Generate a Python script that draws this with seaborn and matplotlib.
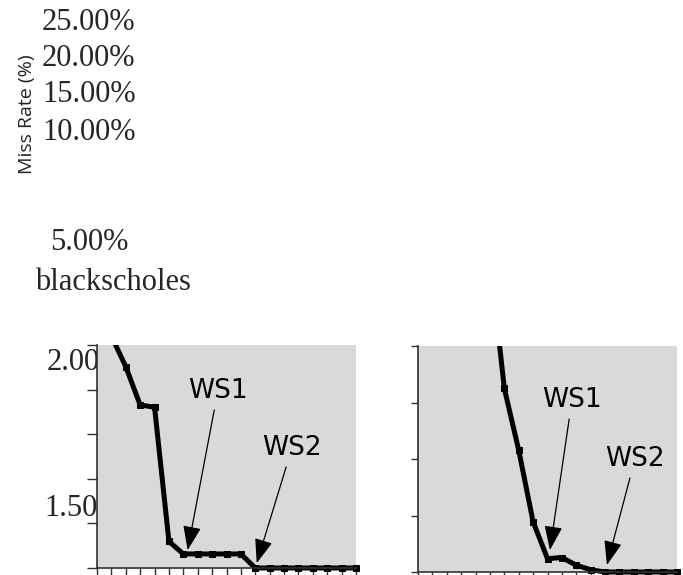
import matplotlib
matplotlib.use("Agg")
import matplotlib.pyplot as plt
import matplotlib.patches as mpatches
import seaborn as sns
import pandas as pd

# Miss-rate curves (normalised) against cache size step
left_steps = list(range(1, 19))
left_miss = [2.04, 1.903, 1.731, 1.721, 1.119, 1.063, 1.063, 1.063, 1.063,
             1.063, 1.0, 1.0, 1.0, 1.0, 1.0, 1.0, 1.0, 1.0]

right_steps = list(range(5, 19))
right_miss = [2.39, 1.812, 1.539, 1.222, 1.059, 1.064, 1.030, 1.010,
              1.0, 1.0, 1.0, 1.0, 1.0, 1.0]

# Percent labels of the outer chart
pct_labels = ["25.00%", "20.00%", "15.00%", "10.00%", "5.00%"]
benchmark = "blackscholes"
ylabel = "Miss Rate (%)"
left_tick_labels = ["2.00", "1.50"]

# Working-set markers: (label, text x, text y, arrow x, arrow y)
left_ws = [("WS1", 8.4, 1.794, 6.3, 1.08), ("WS2", 13.55, 1.538, 11.1, 1.022)]
right_ws = [("WS1", 10.7, 1.761, 9.17, 1.097), ("WS2", 15.08, 1.50, 13.13, 1.031)]

sns.set_theme(style="white")
W, H = 683, 575
fig = plt.figure(figsize=(W / 100, H / 100), dpi=100)

serif = ["Liberation Serif", "DejaVu Serif"]


def px_axes(x0, y_top, x1, y_bot):
    return fig.add_axes([x0 / W, 1 - y_bot / H, (x1 - x0) / W, (y_bot - y_top) / H])


def style_panel(ax, yticks, ylen):
    ax.set_facecolor("#d9d9d9")
    ax.set_xlim(0, 18)
    ax.set_ylim(1.0, 2.0)
    ax.set_xticks(range(0, 19))
    ax.set_yticks(yticks)
    ax.set_xticklabels([])
    ax.set_yticklabels([])
    ax.set_xlabel("")
    ax.set_ylabel("")
    for s in ("top", "right"):
        ax.spines[s].set_visible(False)
    for s in ("left", "bottom"):
        ax.spines[s].set_color("#303030")
        ax.spines[s].set_linewidth(1.2)
    ax.tick_params(axis="both", which="major", direction="out", width=1.0,
                   color="#303030", left=True, bottom=True)
    ax.tick_params(axis="y", length=ylen)
    ax.tick_params(axis="x", length=5)
    ax.grid(False)


def draw_curve(ax, steps, vals):
    df = pd.DataFrame({"step": steps, "miss": vals})
    sns.lineplot(data=df, x="step", y="miss", ax=ax, color="black", lw=3.6,
                 marker="s", markersize=4, markeredgecolor="black")
    clip = mpatches.Rectangle((-0.01, -0.1), 1.03, 1.1, transform=ax.transAxes,
                              fill=False, visible=False)
    ax.add_patch(clip)
    for ln in ax.lines:
        ln.set_clip_path(clip)


def annotate_ws(ax, items):
    for lab, tx, ty, ax_, ay in items:
        ax.annotate(lab, xy=(ax_, ay), xytext=(tx, ty), ha="center", va="center",
                    fontsize=19, family="DejaVu Sans", color="black",
                    arrowprops=dict(arrowstyle="-|>,head_length=0.75,head_width=0.28",
                                    mutation_scale=20, color="black", lw=0.9,
                                    shrinkA=2, shrinkB=0))


ax_l = px_axes(97, 345, 356, 568)
draw_curve(ax_l, left_steps, left_miss)
style_panel(ax_l, [1.0, 1.2, 1.4, 1.6, 1.8, 2.0], 7)
annotate_ws(ax_l, left_ws)

ax_r = px_axes(418, 346, 677, 572)
draw_curve(ax_r, right_steps, right_miss)
style_panel(ax_r, [1.0, 1.25, 1.5, 1.75, 2.0], 5)
annotate_ws(ax_r, right_ws)

# Outer chart text
pct_y = [22, 58, 95, 132, 243]
pct_x = [42, 42, 42, 42, 50]
for lab, x, y in zip(pct_labels, pct_x, pct_y):
    fig.text(x / W, 1 - y / H, lab, family=serif, fontsize=22, ha="left", va="center")
fig.text(35 / W, 1 - 283 / H, benchmark, family=serif, fontsize=22, ha="left", va="center")
fig.text(27 / W, 1 - 114 / H, ylabel, family=["Open Sans", "DejaVu Sans"], fontsize=14,
         rotation=90, ha="center", va="center", color="#222222")

for lab, x, y in zip(left_tick_labels, [47, 44], [363, 508]):
    fig.text(x / W, 1 - y / H, lab, family=serif, fontsize=22, ha="left", va="center",
             zorder=-1)

fig.savefig("out.png", dpi=100)
